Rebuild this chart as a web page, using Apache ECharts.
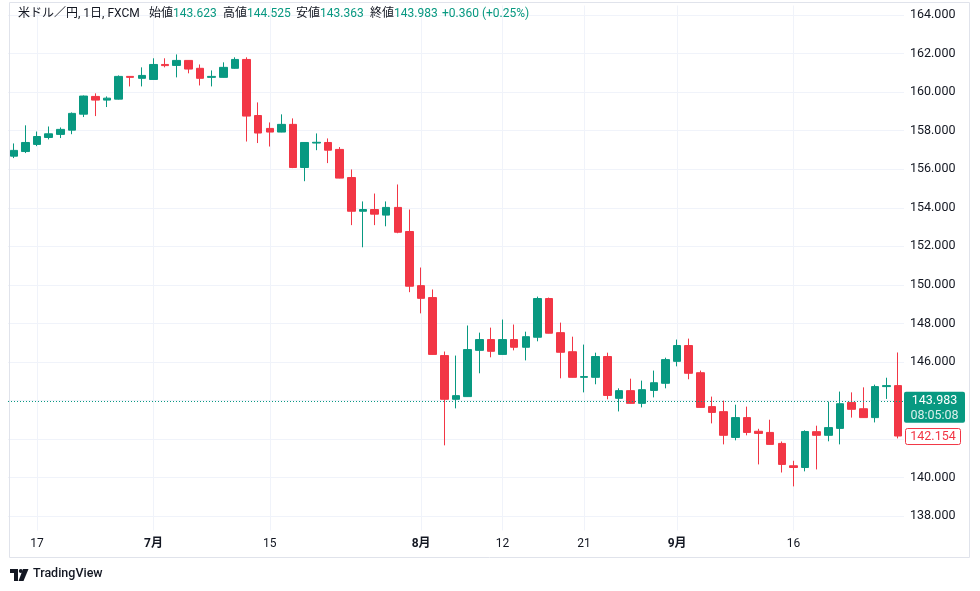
<!DOCTYPE html>
<html><head><meta charset="utf-8">
<script src="https://cdn.jsdelivr.net/npm/echarts@6/dist/echarts.min.js"></script>
<style>html,body{margin:0;padding:0;background:#fff}#c{width:980px;height:591px}</style>
</head><body><div id="c"></div>
<script>
const dates = [
 '2024-06-13','2024-06-14','2024-06-17','2024-06-18','2024-06-19','2024-06-20','2024-06-21','2024-06-24','2024-06-25','2024-06-26','2024-06-27','2024-06-28',
 '2024-07-01','2024-07-02','2024-07-03','2024-07-04','2024-07-05','2024-07-08','2024-07-09','2024-07-10','2024-07-11','2024-07-12','2024-07-15','2024-07-16','2024-07-17','2024-07-18','2024-07-19','2024-07-22','2024-07-23','2024-07-24','2024-07-25','2024-07-26','2024-07-29','2024-07-30','2024-07-31',
 '2024-08-01','2024-08-02','2024-08-05','2024-08-06','2024-08-07','2024-08-08','2024-08-09','2024-08-12','2024-08-13','2024-08-14','2024-08-15','2024-08-16','2024-08-19','2024-08-20','2024-08-21','2024-08-22','2024-08-23','2024-08-26','2024-08-27','2024-08-28','2024-08-29','2024-08-30',
 '2024-09-02','2024-09-03','2024-09-04','2024-09-05','2024-09-06','2024-09-09','2024-09-10','2024-09-11','2024-09-12','2024-09-13','2024-09-16','2024-09-17','2024-09-18','2024-09-19','2024-09-20','2024-09-23','2024-09-24','2024-09-25','2024-09-26','2024-09-27'
];
const opens = [156.68,156.92,157.29,157.65,157.81,158.03,158.86,159.78,159.59,159.64,160.82,160.72,
 160.66,161.44,161.39,161.65,161.24,160.77,160.77,161.24,161.70,158.79,158.12,157.93,158.33,156.09,157.36,157.39,157.03,155.57,153.82,153.91,153.62,154.02,152.77,
 149.96,149.34,146.33,144.06,144.20,146.60,147.16,146.39,147.16,146.76,147.28,149.29,147.52,146.53,145.20,145.20,146.28,144.11,144.51,143.85,144.52,144.89,
 146.03,146.85,145.44,143.68,143.42,142.08,143.11,142.40,142.34,141.77,140.61,140.52,142.38,142.19,142.55,143.90,143.57,143.11,144.72,144.77];
const highs = [157.34,158.28,157.96,158.22,158.17,158.95,159.83,159.94,159.78,160.87,160.84,161.29,
 161.76,161.76,161.96,161.66,161.44,161.13,161.55,161.81,161.81,159.47,158.43,158.85,158.64,157.40,157.86,157.60,157.15,155.99,154.33,154.74,154.33,155.21,153.91,
 150.90,149.76,146.54,146.33,147.89,147.52,147.78,148.20,147.94,147.57,149.39,149.34,148.04,147.31,146.90,146.48,146.48,144.63,145.13,145.03,145.55,146.22,
 147.16,147.21,145.55,144.20,143.99,143.78,143.68,142.53,143.00,141.87,140.87,142.45,142.69,143.94,144.46,144.42,144.68,144.82,145.18,146.49];
const lows = [156.58,156.84,157.20,157.55,157.62,157.82,158.71,158.76,159.23,159.62,160.30,160.30,
 160.64,161.29,160.77,160.98,160.35,160.30,160.76,161.22,157.44,157.36,157.18,157.92,156.06,155.38,156.99,156.32,155.53,153.10,151.95,153.10,153.04,152.68,149.62,
 148.52,146.38,141.67,143.59,144.19,145.41,146.24,146.38,146.60,146.08,147.07,147.48,145.15,145.19,144.42,144.84,144.06,143.43,143.84,143.64,144.16,144.63,
 145.77,145.10,143.63,142.81,141.72,141.93,142.19,140.68,141.71,140.26,139.54,140.32,140.42,141.88,141.72,143.11,143.10,142.86,144.08,142.03];
const closes = [156.98,157.39,157.70,157.84,158.07,158.90,159.80,159.59,159.69,160.82,160.77,160.87,
 161.44,161.38,161.65,161.20,160.72,160.82,161.29,161.70,158.76,157.88,157.93,158.33,156.09,157.39,157.40,156.99,155.54,153.82,153.91,153.67,154.02,152.73,149.93,
 149.30,146.39,144.06,144.25,146.64,147.16,146.55,147.16,146.76,147.31,149.29,147.49,146.50,145.20,145.24,146.28,144.26,144.51,143.85,144.56,144.92,146.12,
 146.85,145.41,143.64,143.38,142.19,143.11,142.34,142.29,141.72,140.68,140.52,142.39,142.19,142.59,143.83,143.54,143.11,144.72,144.77,142.154];

const yTicks = [138,140,142,144,146,148,150,152,154,156,158,160,162,164];
const xTickDates = ['2024-06-17','2024-07-01','2024-07-15','2024-08-01','2024-08-12','2024-08-21','2024-09-02','2024-09-16'];
const xTickLabels = ['17','7月','15','8月','12','21','9月','16'];
const lastPrice = 143.983;
const countdown = '08:05:08';
const lastClose = 142.154;
const headerTitle = '米ドル／円, 1日, FXCM';
const headerNames = ['始値','高値','安値','終値'];
const headerValues = ['143.623','144.525','143.363','143.983'];
const headerChange = '+0.360 (+0.25%)';

const UP = '#089981', DOWN = '#F23645', TXT = '#131722', GRID = '#f0f3fa';
const FONT = "Roboto, 'Noto Sans CJK JP', sans-serif";

const candleData = dates.map((d, i) => [opens[i], closes[i], lows[i], highs[i]]);

const chart = echarts.init(document.getElementById('c'), null, {renderer: 'canvas'});
const option = {
  animation: false,
  backgroundColor: '#ffffff',
  textStyle: {fontFamily: FONT},
  grid: {left: 8, right: 76, top: 5.5, bottom: 60.5},
  xAxis: {
    type: 'category', data: dates, boundaryGap: true,
    axisLine: {show: false}, axisTick: {show: false}, splitLine: {show: false},
    axisLabel: {
      interval: (i, v) => xTickDates.indexOf(v) >= 0,
      formatter: v => {
        const l = xTickLabels[xTickDates.indexOf(v)];
        return l.indexOf('月') >= 0 ? '{b|' + l + '}' : '{n|' + l + '}';
      },
      margin: 7,
      rich: {
        b: {fontWeight: 'bold', fontSize: 12, color: TXT, fontFamily: FONT},
        n: {fontSize: 12, color: TXT, fontFamily: FONT}
      }
    }
  },
  yAxis: {
    type: 'value', position: 'right', scale: true, min: 137.25, max: 164.5,
    axisLine: {show: false}, axisTick: {show: false, customValues: yTicks}, splitLine: {show: false},
    axisLabel: {customValues: yTicks, formatter: v => v.toFixed(3), color: TXT, fontSize: 12.5, margin: 6, fontFamily: FONT}
  },
  series: [
    {
      type: 'line', data: [], silent: true, z: 0,
      markLine: {
        silent: true, symbol: 'none', z: 0, animation: false,
        label: {show: false},
        lineStyle: {color: GRID, width: 1, type: 'solid'},
        data: xTickDates.map(d => ({xAxis: d})).concat(yTicks.map(v => ({yAxis: v})))
      }
    },
    {
      type: 'candlestick', data: candleData, barWidth: 8, z: 2,
      itemStyle: {color: UP, color0: DOWN, borderColor: UP, borderColor0: DOWN, borderWidth: 1},
      markLine: {
        silent: true, symbol: 'none', z: 3, animation: false,
        label: {show: false},
        lineStyle: {color: UP, width: 1, type: [1, 2]},
        data: [{yAxis: lastPrice}]
      }
    }
  ]
};
chart.setOption(option);

const yLast = chart.convertToPixel({yAxisIndex: 0}, lastPrice);
const yClose = chart.convertToPixel({yAxisIndex: 0}, lastClose);

const headerX = [149, 223, 296, 370];
const graphics = [
  {type: 'text', left: 18, top: 8, style: {text: headerTitle, fill: TXT, font: '12px ' + FONT}}
];
headerNames.forEach((n, i) => {
  graphics.push({type: 'text', left: headerX[i], top: 8, style: {
    text: '{n|' + n + '}{v|' + headerValues[i] + '}',
    rich: {n: {fill: TXT, fontSize: 12, fontFamily: FONT}, v: {fill: UP, fontSize: 12, fontFamily: FONT}}
  }});
});
graphics.push({type: 'text', left: 442, top: 8, style: {text: headerChange, fill: UP, font: '12px ' + FONT}});

// price labels
graphics.push({type: 'rect', shape: {x: 904, y: yLast - 9, width: 61, height: 31, r: 2}, style: {fill: UP}, z: 10});
graphics.push({type: 'text', x: 934.5, y: yLast + 0.5, style: {text: lastPrice.toFixed(3), fill: '#fff', font: '12.5px ' + FONT, align: 'center', verticalAlign: 'middle'}, z: 11});
graphics.push({type: 'text', x: 934.5, y: yLast + 15, style: {text: countdown, fill: 'rgba(255,255,255,0.85)', font: '12.5px ' + FONT, align: 'center', verticalAlign: 'middle'}, z: 11});
graphics.push({type: 'rect', shape: {x: 905.5, y: yClose - 7.5, width: 55, height: 16, r: 2}, style: {fill: '#fff', stroke: DOWN, lineWidth: 1}, z: 10});
graphics.push({type: 'text', x: 933, y: yClose + 0.5, style: {text: lastClose.toFixed(3), fill: DOWN, font: '12.5px ' + FONT, align: 'center', verticalAlign: 'middle'}, z: 11});

// frame
graphics.push({type: 'rect', shape: {x: 9.5, y: 2.5, width: 960, height: 555}, style: {fill: 'none', stroke: '#e0e3eb', lineWidth: 1}, z: 20, silent: true});

// TradingView logo
graphics.push({type: 'polygon', shape: {points: [[10,569],[18,569],[18,581],[14,581],[14,573],[10,573]]}, style: {fill: TXT}});
graphics.push({type: 'circle', shape: {cx: 20.8, cy: 571, r: 2}, style: {fill: TXT}});
graphics.push({type: 'polygon', shape: {points: [[23,569],[28.5,569],[23.5,581],[18.5,581]]}, style: {fill: TXT}});
graphics.push({type: 'text', left: 33, top: 568, style: {text: 'TradingView', fill: TXT, font: '500 12.5px ' + FONT}});

chart.setOption({graphic: graphics});
</script>
</body></html>
